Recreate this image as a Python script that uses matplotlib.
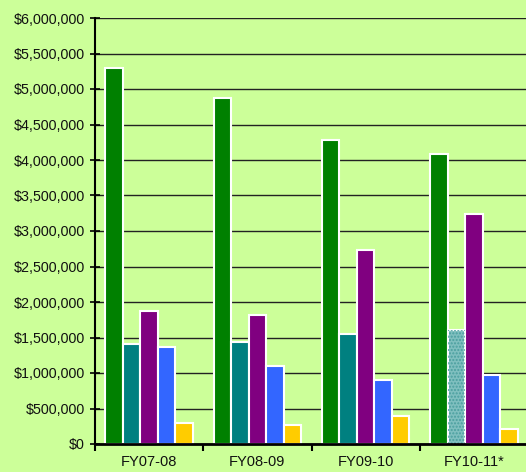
import numpy as np
import matplotlib.pyplot as plt
from matplotlib.ticker import FuncFormatter

plt.rcParams['font.family'] = ['Liberation Sans', 'DejaVu Sans']

# Data
years = ['FY07-08', 'FY08-09', 'FY09-10', 'FY10-11*']
green = [5290000, 4870000, 4280000, 4080000]
teal = [1410000, 1440000, 1550000, 1610000]
purple = [1880000, 1810000, 2730000, 3240000]
blue = [1360000, 1100000, 905000, 970000]
yellow = [290000, 270000, 400000, 210000]

series = [green, teal, purple, blue, yellow]
colors = ['#008000', '#008080', '#800080', '#3366ff', '#ffcc00']

bg = '#ccff99'
fig = plt.figure(figsize=(5.26, 4.72), dpi=100, facecolor=bg)
ax = fig.add_axes([95 / 526, 28 / 472, 433 / 526, 426 / 472], facecolor=bg)

x = np.arange(len(years))
w = 0.162
offsets = (np.arange(5) - 2) * w

for vals, col, off in zip(series, colors, offsets):
    bars = ax.bar(x + off, vals, width=w, color=col, edgecolor='white',
                  linewidth=1.5, zorder=3)
    if col == '#008080':
        # last year is an estimate: lighter, speckled teal
        bars[-1].set_facecolor('#7fbfbf')
        ax.bar(x[-1] + off, vals[-1], width=w, facecolor='none',
               edgecolor='#4a9f9f', hatch='.....', linewidth=0, zorder=4)

ax.set_xlim(-0.5, 3.5)
ax.set_ylim(0, 6000000)
ax.set_yticks(np.arange(0, 6000001, 500000))
ax.yaxis.set_major_formatter(FuncFormatter(lambda v, p: '${:,.0f}'.format(v)))
ax.grid(axis='y', color='#222222', linewidth=1.0, zorder=1)

ax.set_xticks(np.arange(-0.5, 3.6, 1.0))
ax.set_xticklabels([])
ax.set_xticks(x, minor=True)
ax.set_xticklabels(years, minor=True)
ax.tick_params(axis='x', which='minor', length=0, pad=8, labelsize=10.5, labelcolor='#111111')
ax.tick_params(axis='x', which='major', length=5, width=1.5, color='black')
ax.tick_params(axis='y', direction='inout', length=7, width=1.2, pad=4,
               labelsize=10.3, labelcolor='#111111')

for s in ['top', 'right']:
    ax.spines[s].set_visible(False)
ax.spines['left'].set_linewidth(1.5)
ax.spines['bottom'].set_linewidth(2)
ax.spines['bottom'].set_zorder(5)

fig.savefig('out.png', dpi=100, facecolor=bg)
